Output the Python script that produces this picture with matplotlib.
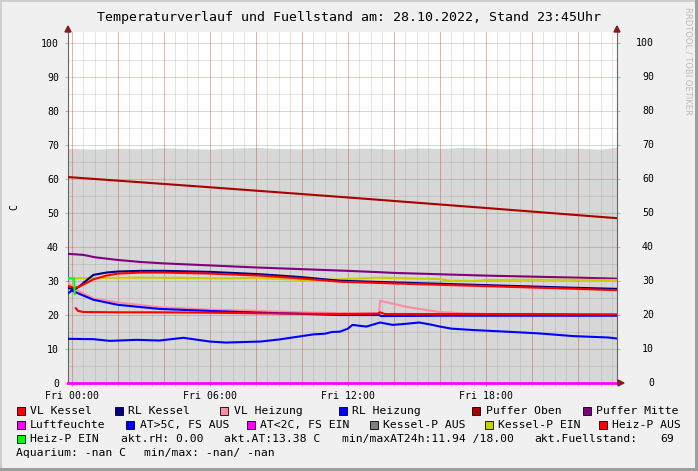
import numpy as np
import matplotlib
matplotlib.use("Agg")
import matplotlib.pyplot as plt
from matplotlib.patches import Rectangle, Polygon
import matplotlib.transforms as mtransforms

W, H = 698, 471

# ---------------- data (hours since Fri 00:00) ----------------
t_fs = [-0.17, 1, 2, 3, 4, 5, 6, 7, 8, 9, 10, 11, 12, 13, 14, 15, 16, 17, 18, 19, 20, 21, 22, 23, 23.7]
fuellstand = [69.0, 68.8, 69.1, 68.9, 69.2, 69.0, 68.8, 69.1, 69.3, 69.0, 68.9, 69.2, 69.0,
              69.1, 68.8, 69.2, 69.0, 69.3, 69.1, 68.9, 69.2, 69.0, 69.1, 68.8, 69.4]

t_po = [-0.17, 6, 12, 18, 23.7]
puffer_oben = [60.6, 57.6, 54.6, 51.5, 48.5]

t_pm = [-0.17, 0.5, 1, 2, 3, 4, 6, 8, 10, 12, 13.4, 14, 16, 18, 20, 22, 23.7]
puffer_mitte = [38.0, 37.7, 37.0, 36.2, 35.6, 35.2, 34.6, 34.0, 33.5, 33.0, 32.6, 32.4, 32.0, 31.6, 31.3, 31.0, 30.7]

t_k = [-0.17, 0.1, 0.3, 0.6, 0.93, 1.5, 2.0, 3.0, 4.0, 6.0, 8.2, 9.9, 11.65, 14, 16, 18, 20, 22, 23.7]
rl_kessel = [28.0, 27.5, 28.3, 30.0, 31.8, 32.5, 32.8, 33.0, 33.0, 32.7, 32.0, 31.2, 30.1, 29.6, 29.2, 28.8, 28.4, 28.0, 27.7]
vl_kessel = [28.5, 28.0, 28.3, 29.3, 30.5, 31.6, 32.2, 32.5, 32.5, 32.2, 31.6, 30.8, 29.8, 29.3, 28.9, 28.5, 28.1, 27.7, 27.3]

t_ky = [-0.17, 1, 3, 5, 6.5, 8, 9.5, 10.5, 11.65, 13.3, 14.5, 16, 16.4, 17.5, 18, 20, 23.7]
kessel_p_ein = [30.8, 30.9, 31.0, 30.9, 30.8, 30.9, 30.5, 30.1, 30.5, 31.0, 30.8, 30.6, 30.1, 30.0, 30.3, 30.4, 30.3]

t_hg = [-0.17, 0.1, 0.12]
heiz_p_ein = [30.8, 30.8, 26.2]

t_hr = [0.17, 0.27, 0.5, 2, 3.8, 6, 8.2, 11.65, 13.3, 13.4, 13.6, 16, 20, 23.7]
heiz_p_aus = [22.0, 21.2, 20.9, 20.8, 20.8, 20.7, 20.5, 20.3, 20.4, 20.8, 20.3, 20.3, 20.3, 20.2]

t_vh = [-0.17, 0.06, 0.2, 0.93, 2.0, 3.8, 6, 8, 10, 12, 13.35, 13.4, 14.55, 15.4, 16.0, 17.0, 18.0, 20, 23.7]
vl_heizung = [29.4, 27.9, 27.4, 24.9, 23.7, 22.3, 21.6, 21.2, 20.8, 20.5, 20.5, 24.2, 22.4, 21.5, 20.9, 20.5, 20.3, 20.2, 20.0]

t_rh = [-0.17, 0.0, 0.2, 0.93, 2.0, 3.8, 6.0, 8.2, 11.65, 13.35, 13.45, 16, 20, 23.7]
rl_heizung = [26.4, 27.2, 26.6, 24.5, 23.0, 21.8, 21.2, 20.7, 20.0, 20.0, 19.7, 19.8, 19.8, 19.8]

t_at = [-0.17, 0.93, 1.65, 2.8, 3.8, 4.85, 6.0, 6.7, 8.2, 9.0, 9.5, 10.0, 10.5, 11.0, 11.3, 11.65,
        12.0, 12.2, 12.8, 13.4, 13.95, 14.5, 15.1, 15.6, 16.0, 16.5, 17.4, 18.9, 20.3, 21.8, 23.3, 23.7]
aussen = [13.0, 12.9, 12.4, 12.7, 12.5, 13.3, 12.2, 11.9, 12.2, 12.8, 13.3, 13.8, 14.3, 14.5, 15.0, 15.1,
          16.0, 17.1, 16.6, 17.8, 17.1, 17.4, 17.8, 17.2, 16.6, 16.0, 15.6, 15.1, 14.6, 13.8, 13.4, 13.1]

t_rh0 = [-0.17, 23.7]
luftfeuchte = [0.0, 0.0]

x_ticks = [0, 6, 12, 18]
x_labels = ["Fri 00:00", "Fri 06:00", "Fri 12:00", "Fri 18:00"]
y_ticks = [0, 10, 20, 30, 40, 50, 60, 70, 80, 90, 100]

legend_rows = [
    [("VL Kessel", "#ff0000", 16.5), ("RL Kessel", "#000080", 114.5), ("VL Heizung", "#ff8ca0", 220.5),
     ("RL Heizung", "#0000ff", 338.5), ("Puffer Oben", "#aa0000", 472), ("Puffer Mitte", "#800080", 583)],
    [("Luftfeuchte", "#ff00ff", 16.5), ("AT>5C, FS AUS", "#0000ff", 126), ("AT<2C, FS EIN", "#ff00ff", 247),
     ("Kessel-P AUS", "#808080", 369.5), ("Kessel-P EIN", "#cccc00", 484.5), ("Heiz-P AUS", "#ff0000", 599)],
    [("Heiz-P EIN", "#00ff00", 16.5)],
]
info_texts = [
    ("akt.rH: 0.00", 121, 439), ("akt.AT:13.38 C", 224, 439), ("min/maxAT24h:11.94 /18.00", 342, 439),
    ("akt.Fuellstand:", 534, 439), ("69", 660, 439),
    ("Aquarium: -nan C", 16.5, 453), ("min/max: -nan/ -nan", 143.8, 453),
]

# ---------------- figure ----------------
MONO = "DejaVu Sans Mono"
fig = plt.figure(figsize=(W / 100, H / 100), dpi=100, facecolor="#f0f0f0")

def fx(x):
    return x / W

def fy(y):
    return 1 - y / H

x0, x1, ytop, ybot = 68, 617, 32.3, 383
ax = fig.add_axes([fx(x0), fy(ybot), (x1 - x0) / W, (ybot - ytop) / H])
ax.set_facecolor("white")
XMIN, XMAX = -0.17, 23.7
YMIN, YMAX = 0, 103.2
ax.set_xlim(XMIN, XMAX)
ax.set_ylim(YMIN, YMAX)

# area
ax.fill_between(t_fs, 0, fuellstand, color="#d7d7d7", lw=0, zorder=0.2)

# grid
glw = 0.72
for h in np.arange(0.0, 23.7, 0.5):
    ax.axvline(h, color="#7f7f7f", alpha=0.2, lw=glw, zorder=0.5)
for h in np.arange(0, 23.7, 2):
    ax.axvline(h, color="#ff0000", alpha=0.22, lw=glw, zorder=0.55)
for v in range(5, 101, 10):
    ax.axhline(v, color="#7f7f7f", alpha=0.2, lw=glw, zorder=0.5)
for v in range(10, 101, 10):
    ax.axhline(v, color="#ff0000", alpha=0.22, lw=glw, zorder=0.55)

lw = 1.5
ax.plot(t_po, puffer_oben, color="#aa0000", lw=lw, zorder=3)
ax.plot(t_pm, puffer_mitte, color="#800080", lw=lw, zorder=3)
ax.plot(t_ky, kessel_p_ein, color="#cccc00", lw=lw, zorder=3)
ax.plot(t_k, vl_kessel, color="#ff0000", lw=lw, zorder=3.2)
ax.plot(t_k, rl_kessel, color="#000080", lw=lw, zorder=3.1)
ax.plot(t_vh, vl_heizung, color="#ff8ca0", lw=lw, zorder=3)
ax.plot(t_rh, rl_heizung, color="#0000ff", lw=lw, zorder=3.1)
ax.plot(t_hr, heiz_p_aus, color="#ff0000", lw=lw, zorder=3.2)
ax.plot(t_at, aussen, color="#0000ff", lw=lw, zorder=3)
ax.plot(t_hg, heiz_p_ein, color="#00ff00", lw=lw, zorder=3.3)
ax.plot(t_rh0, luftfeuchte, color="#ff00ff", lw=2.0, zorder=5, clip_on=False)

# spines
ax.spines["top"].set_visible(False)
for s in ["left", "right", "bottom"]:
    ax.spines[s].set_color("#666666")
    ax.spines[s].set_linewidth(0.8)

ax.set_xticks(x_ticks)
ax.set_xticklabels(x_labels, fontfamily=MONO, fontsize=7.1)
ax.set_xticks(list(np.arange(0, 23.7, 0.5)), minor=True)
ax.tick_params(axis="x", which="major", length=2.5, color="#e08080", pad=3.5)
ax.tick_params(axis="x", which="minor", length=2.0, color="#cccccc")
ax.set_yticks(y_ticks)
ax.set_yticklabels([str(v) for v in y_ticks], fontfamily=MONO, fontsize=7.1)
ax.tick_params(axis="y", which="major", length=2.5, color="#e8a0a0", pad=4.0, right=True, direction="out")

trans = mtransforms.blended_transform_factory(ax.transAxes, ax.transData)
for v in y_ticks:
    ax.text(1 + 37 / (x1 - x0), v, str(v), transform=trans, ha="right", va="center",
            fontfamily=MONO, fontsize=7.1, clip_on=False)

# arrows
arrow_c = "#7f1f1f"
for xa in (x0, x1):
    fig.patches.append(Polygon([(fx(xa - 3), fy(32)), (fx(xa + 3), fy(32)), (fx(xa), fy(26))],
                               closed=True, color=arrow_c, transform=fig.transFigure))
fig.patches.append(Polygon([(fx(618), fy(380)), (fx(618), fy(386)), (fx(624), fy(383))],
                           closed=True, color=arrow_c, transform=fig.transFigure))

# title, y label, watermark
fig.text(0.5, fy(17), "Temperaturverlauf und Fuellstand am: 28.10.2022, Stand 23:45Uhr",
         ha="center", va="center", fontfamily=MONO, fontsize=9.5)
fig.text(fx(14), fy(207), "C", rotation=90, ha="center", va="center", fontfamily=MONO, fontsize=7.1)
fig.text(fx(688), fy(7), "RRDTOOL / TOBI OETIKER", rotation=270, ha="center", va="top",
         fontfamily="DejaVu Sans", fontsize=6.0, color="#bcbcbc")

# legend
row_y = [411, 425, 439]
for ri, row in enumerate(legend_rows):
    yc = row_y[ri]
    for label, col, bx in row:
        fig.patches.append(Rectangle((fx(bx), fy(yc + 4)), 8 / W, 8 / H, facecolor=col,
                                     edgecolor="black", lw=0.6, transform=fig.transFigure))
        fig.text(fx(bx + 13.5), fy(yc), label, ha="left", va="center", fontfamily=MONO, fontsize=8.2)
for txt, tx, ty in info_texts:
    fig.text(fx(tx), fy(ty), txt, ha="left", va="center", fontfamily=MONO, fontsize=8.2)

# border shading
fig.patches.append(Rectangle((0, fy(2)), 1, 2 / H, facecolor="#cfcfcf", lw=0, transform=fig.transFigure))
fig.patches.append(Rectangle((0, 0), 2 / W, 1, facecolor="#cfcfcf", lw=0, transform=fig.transFigure))
fig.patches.append(Rectangle((fx(695), 0), 3 / W, 1, facecolor="#9e9e9e", lw=0, transform=fig.transFigure))
fig.patches.append(Rectangle((0, 0), 1, 3 / H, facecolor="#9e9e9e", lw=0, transform=fig.transFigure))

fig.savefig("out.png", dpi=100, facecolor=fig.get_facecolor())
